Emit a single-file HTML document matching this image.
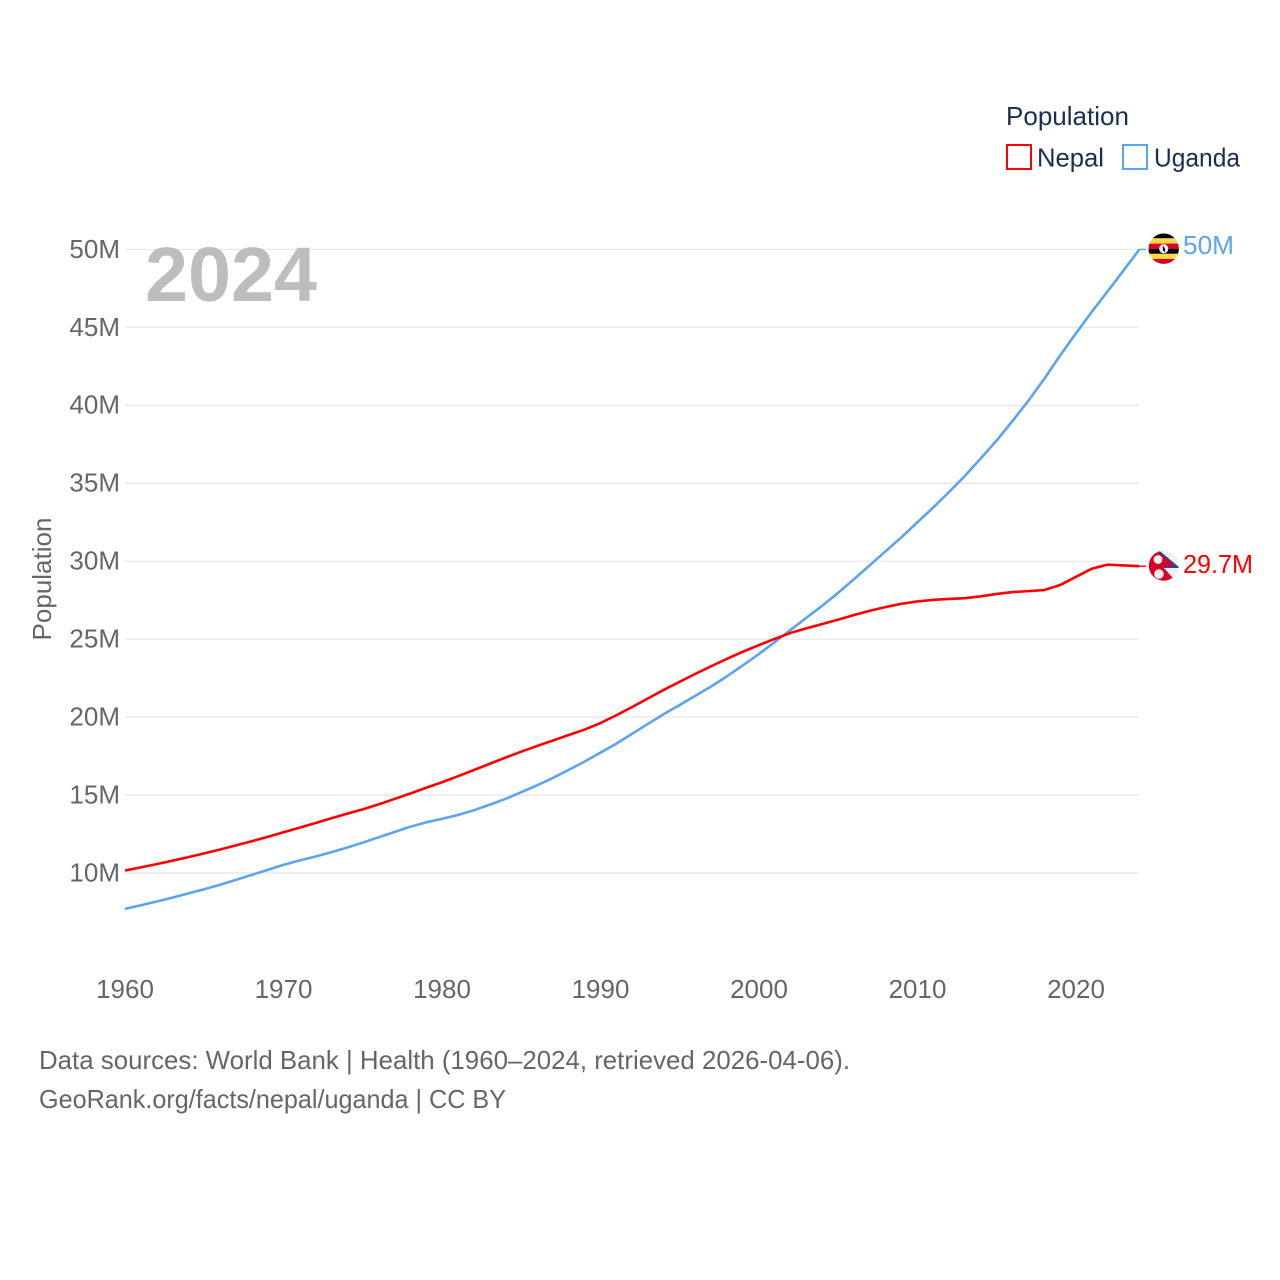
<!DOCTYPE html>
<html lang="en">
<head>
<meta charset="utf-8">
<title>Population: Nepal and Uganda</title>
<style>
html,body{margin:0;padding:0;background:#fff}
svg{display:block}
text{font-family:"Liberation Sans",sans-serif}
</style>
</head>
<body>
<svg id="chart" xmlns="http://www.w3.org/2000/svg" width="1280" height="1280" viewBox="0 0 1280 1280">
<rect width="1280" height="1280" fill="#fff"/>
<g id="grid"></g>
<g id="yticks"></g>
<g id="xticks"></g>
<text x="145" y="301" font-size="77" font-weight="700" fill="#bdbdbd" textLength="172" lengthAdjust="spacingAndGlyphs">2024</text>
<text transform="translate(51,579) rotate(-90)" text-anchor="middle" font-size="26" fill="#666">Population</text>
<g id="series"></g>

<g>
<text x="1006" y="125" font-size="26" fill="#1a2f50" textLength="123" lengthAdjust="spacingAndGlyphs">Population</text>
<rect x="1007" y="145" width="24" height="24" fill="#fff" stroke="#ff0000" stroke-width="2"/>
<text x="1037" y="166.5" font-size="26" fill="#1a2f50" textLength="67" lengthAdjust="spacingAndGlyphs">Nepal</text>
<rect x="1123" y="145" width="24" height="24" fill="#fff" stroke="#5ba4ee" stroke-width="2"/>
<text x="1154" y="166.5" font-size="26" fill="#1a2f50" textLength="86" lengthAdjust="spacingAndGlyphs">Uganda</text>
</g>

<defs>
<clipPath id="clip-ug"><circle cx="1163.7" cy="248.7" r="15.2"/></clipPath>
<clipPath id="clip-np"><circle cx="1163.8" cy="565.7" r="15"/></clipPath>
</defs>
<g clip-path="url(#clip-ug)">
<rect x="1148" y="233" width="32" height="5.3" fill="#000"/>
<rect x="1148" y="238.4" width="32" height="5.2" fill="#ffda44"/>
<rect x="1148" y="243.6" width="32" height="5.1" fill="#d80027"/>
<rect x="1148" y="248.7" width="32" height="5.1" fill="#000"/>
<rect x="1148" y="253.8" width="32" height="5.1" fill="#ffda44"/>
<rect x="1148" y="258.9" width="32" height="5.3" fill="#d80027"/>
<circle cx="1163.7" cy="248.7" r="4.6" fill="#f0f0f0"/>
<path d="M1162.8 245.2v4.8l2.2 2.4v-3.6z" fill="#000"/>
</g>
<g clip-path="url(#clip-np)">
<rect x="1147" y="550" width="33" height="32" fill="#f0f0f0"/>
<polygon points="1146,546 1158,550 1178.5,567.5 1163.5,567.5 1175.5,581 1146,586" fill="#d80027"/>
<polyline points="1158,550.5 1178,567.3 1164,567.3" fill="none" stroke="#0052b4" stroke-width="1.5"/>
<circle cx="1158" cy="559.5" r="4.4" fill="#f0f0f0"/>
<circle cx="1159" cy="574" r="4.8" fill="#f0f0f0"/>
</g>
<text x="1183" y="254" font-size="26" fill="#5ba4ee" textLength="51" lengthAdjust="spacingAndGlyphs">50M</text>
<text x="1183" y="573" font-size="26" fill="#ff0000" textLength="70" lengthAdjust="spacingAndGlyphs">29.7M</text>

<text x="39" y="1069" font-size="26" fill="#666" textLength="811" lengthAdjust="spacingAndGlyphs">Data sources: World Bank | Health (1960–2024, retrieved 2026-04-06).</text>
<text x="39" y="1108" font-size="26" fill="#666" textLength="467" lengthAdjust="spacingAndGlyphs">GeoRank.org/facts/nepal/uganda | CC BY</text>
</svg>
<script>
const startYear = 1960;
const yTickValues = [10, 15, 20, 25, 30, 35, 40, 45, 50];
const yTickLabels = ['10M', '15M', '20M', '25M', '30M', '35M', '40M', '45M', '50M'];
const xTickYears = [1960, 1970, 1980, 1990, 2000, 2010, 2020];
const nepalValues = [
  10.16, 10.36, 10.57, 10.79, 11.02, 11.26, 11.51, 11.77, 12.04, 12.32,
  12.61, 12.90, 13.20, 13.50, 13.80, 14.08, 14.40, 14.75, 15.10, 15.47,
  15.82, 16.20, 16.60, 17.00, 17.40, 17.78, 18.15, 18.50, 18.85, 19.20,
  19.62, 20.12, 20.65, 21.20, 21.75, 22.27, 22.78, 23.27, 23.75, 24.20,
  24.62, 25.02, 25.40, 25.70, 25.97, 26.25, 26.55, 26.82, 27.06, 27.27,
  27.42, 27.52, 27.58, 27.63, 27.75, 27.90, 28.02, 28.08, 28.15, 28.47,
  29.00, 29.52, 29.78, 29.73, 29.68
];
const ugandaValues = [
  7.70, 7.93, 8.17, 8.42, 8.69, 8.96, 9.25, 9.56, 9.88, 10.20,
  10.52, 10.80, 11.05, 11.33, 11.63, 11.95, 12.29, 12.63, 12.97, 13.25,
  13.47, 13.72, 14.02, 14.38, 14.75, 15.18, 15.62, 16.10, 16.62, 17.15,
  17.72, 18.30, 18.93, 19.57, 20.20, 20.78, 21.38, 21.98, 22.63, 23.33,
  24.05, 24.82, 25.60, 26.38, 27.15, 27.98, 28.85, 29.75, 30.65, 31.55,
  32.50, 33.45, 34.45, 35.48, 36.60, 37.75, 39.00, 40.30, 41.70, 43.20,
  44.62, 46.00, 47.32, 48.65, 50.00
];

const NS = 'http://www.w3.org/2000/svg';
function xScale(year) { return 125 + (year - 1960) * 15.85; }
function yScale(value) { return 873 - (value - 10) * 15.59; }

const gridLayer = document.getElementById('grid');
const yLayer = document.getElementById('yticks');
const xLayer = document.getElementById('xticks');
const seriesLayer = document.getElementById('series');

yTickValues.forEach(function (v, i) {
  const line = document.createElementNS(NS, 'line');
  
  
  line.setAttribute('x1', 125);
  line.setAttribute('x2', 1139);
  line.setAttribute('y1', yScale(v));
  line.setAttribute('y2', yScale(v));
  line.setAttribute('stroke', '#e9e9e9');
  line.setAttribute('stroke-width', 1.4);
  gridLayer.appendChild(line);

  const label = document.createElementNS(NS, 'text');
  
  
  label.setAttribute('x', 120);
  label.setAttribute('y', yScale(v) + 8.4);
  label.setAttribute('text-anchor', 'end');
  label.setAttribute('font-size', 26);
  label.setAttribute('fill', '#666');
  label.textContent = yTickLabels[i];
  yLayer.appendChild(label);
});

xTickYears.forEach(function (year) {
  const label = document.createElementNS(NS, 'text');
  
  
  label.setAttribute('x', xScale(year));
  label.setAttribute('y', 998);
  label.setAttribute('text-anchor', 'middle');
  label.setAttribute('font-size', 26);
  label.setAttribute('fill', '#666');
  label.textContent = String(year);
  xLayer.appendChild(label);
});

function drawSeries(values, color, name) {
  const pts = values.map(function (v, i) {
    return xScale(startYear + i).toFixed(2) + ',' + yScale(v).toFixed(2);
  });
  const line = document.createElementNS(NS, 'polyline');
  
  
  line.setAttribute('points', pts.join(' '));
  line.setAttribute('fill', 'none');
  line.setAttribute('stroke', color);
  line.setAttribute('stroke-width', 2.6);
  line.setAttribute('stroke-linejoin', 'round');
  seriesLayer.appendChild(line);

  const lastY = yScale(values[values.length - 1]);
  const leader = document.createElementNS(NS, 'line');
  
  
  leader.setAttribute('x1', xScale(startYear + values.length - 1));
  leader.setAttribute('x2', 1146);
  leader.setAttribute('y1', lastY);
  leader.setAttribute('y2', lastY);
  leader.setAttribute('stroke', color);
  leader.setAttribute('stroke-width', 1.4);
  seriesLayer.appendChild(leader);
}
drawSeries(ugandaValues, '#5ba4ee', 'uganda');
drawSeries(nepalValues, '#ff0000', 'nepal');
</script>
</body>
</html>
